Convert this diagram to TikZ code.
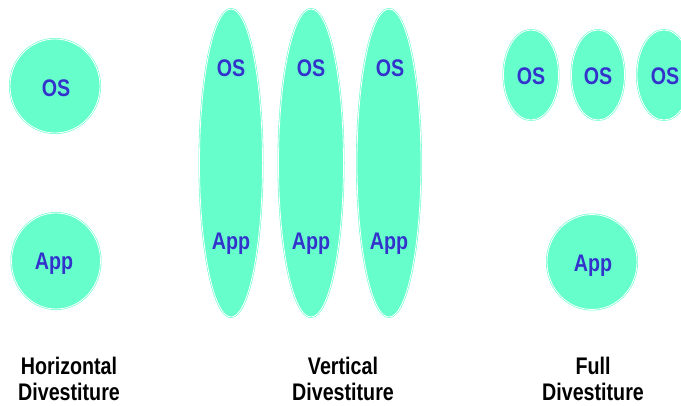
\documentclass[tikz,border=0pt]{standalone}
\usepackage{fontspec}
\setmainfont{Liberation Sans}[FakeStretch=0.82]
\usetikzlibrary{shapes.geometric}
\definecolor{aqua}{HTML}{66FFCC}
\definecolor{inkblue}{HTML}{3333CC}

\begin{document}
\begin{tikzpicture}[x=1pt,y=-1pt,
  blob/.style={ellipse,fill=aqua,draw=aqua,double=white,double distance=.8pt,line width=.6pt,inner sep=0pt},
  tag/.style={anchor=base,text=inkblue,inner sep=0pt,font=\fontsize{24}{27}\selectfont\bfseries},
  caption/.style={anchor=base,align=center,inner sep=0pt,font=\fontsize{24}{26}\selectfont\bfseries}
]
\useasboundingbox (0,0) rectangle (681,406);

% horizontal
\node[blob,minimum width=90pt,minimum height=94pt] (osH) at (55,86) {};
\node[blob,minimum width=89pt,minimum height=96pt] (appH) at (56,261) {};
\node[tag] (osHt) at (56,97) {OS};
\node[tag] (appHt) at (54,270) {App};

% vertical
\node[blob,minimum width=63pt,minimum height=308pt] (colA) at (231,163) {};
\node[blob,minimum width=65pt,minimum height=308pt] (colB) at (311,163) {};
\node[blob,minimum width=64pt,minimum height=308pt] (colC) at (389,163) {};
\node[tag] (osA) at (231,77) {OS};
\node[tag] (osB) at (311,77) {OS};
\node[tag] (osC) at (390,77) {OS};
\node[tag] (appA) at (231,250) {App};
\node[tag] (appB) at (311,250) {App};
\node[tag] (appC) at (389,250) {App};

% full
\node[blob,minimum width=55pt,minimum height=90pt] (osF1) at (531,75) {};
\node[blob,minimum width=53pt,minimum height=90pt] (osF2) at (598,75) {};
\node[blob,minimum width=54pt,minimum height=90pt] (osF3) at (664,75) {};
\node[blob,minimum width=90pt,minimum height=95pt] (appF) at (592,262) {};
\node[tag] (osF1t) at (531,85) {OS};
\node[tag] (osF2t) at (598,85) {OS};
\node[tag] (osF3t) at (665,85) {OS};
\node[tag] (appFt) at (593,272) {App};

% captions (base = last line)
\node[caption] (capH) at (69,401) {Horizontal\\Divestiture};
\node[caption] (capV) at (343,401) {Vertical\\Divestiture};
\node[caption] (capF) at (593,401) {Full\\Divestiture};
\end{tikzpicture}
\end{document}
